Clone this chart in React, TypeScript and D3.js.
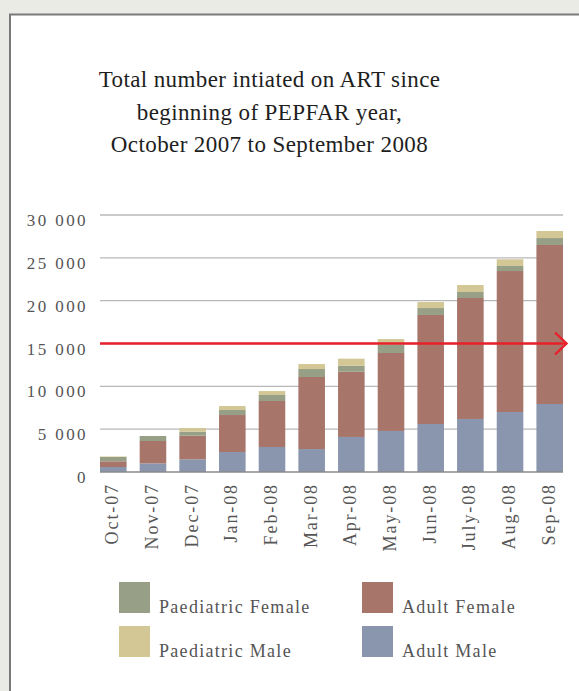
import * as d3 from 'd3';
import React from 'react';

// months of the PEPFAR year
const months = ['Oct-07', 'Nov-07', 'Dec-07', 'Jan-08', 'Feb-08', 'Mar-08', 'Apr-08', 'May-08', 'Jun-08', 'July-08', 'Aug-08', 'Sep-08'];

// cumulative numbers initiated, by group
const adultMale = [580, 1000, 1480, 2330, 2920, 2680, 4090, 4790, 5600, 6190, 7000, 7940];
const adultFemale = [670, 2620, 2760, 4320, 5370, 8410, 7610, 9100, 12730, 14120, 16460, 18560];
const paedFemale = [500, 580, 460, 590, 700, 930, 700, 1010, 810, 700, 590, 810];
const paedMale = [60, 0, 430, 460, 460, 580, 830, 620, 700, 820, 780, 820];

const target = 15000;

const titleLines = ['Total number intiated on ART since', 'beginning of PEPFAR year,', 'October 2007 to September 2008'];

const keys = ['adultMale', 'adultFemale', 'paedFemale', 'paedMale'];
const legendItems = [
    { key: 'paedFemale', label: 'Paediatric Female' },
    { key: 'adultFemale', label: 'Adult Female' },
    { key: 'paedMale', label: 'Paediatric Male' },
    { key: 'adultMale', label: 'Adult Male' },
];

const colors: Record<string, string> = {
    adultMale: '#8a95ae',
    adultFemale: '#a8756b',
    paedFemale: '#97a086',
    paedMale: '#d2c795',
};

const FONT = '"Liberation Serif", "Times New Roman", serif';

function App() {
    const width = 579;
    const height = 691;
    const left = 100, right = 563, top = 215, bottom = 472;

    const rows = months.map((m, i) => ({
        month: m,
        adultMale: adultMale[i],
        adultFemale: adultFemale[i],
        paedFemale: paedFemale[i],
        paedMale: paedMale[i],
    }));

    const series = d3.stack<any>().keys(keys)(rows);

    const x = d3.scaleBand<string>()
        .domain(months)
        .range([left, right])
        .paddingInner(0.33)
        .paddingOuter(0);

    const y = d3.scaleLinear()
        .domain([0, 30000])
        .range([bottom, top]);

    const fmt = d3.formatLocale({ decimal: '.', thousands: ' ', grouping: [3], currency: ['', ''] }).format(',');
    const ticks = y.ticks(6);
    const ty = y(target);

    return (
        <svg width={width} height={height} style={{ position: 'fixed', left: 0, top: 0 }}>
            <rect x={0} y={0} width={width} height={height} fill="#ebebe6" />
            <rect x={10} y={14.5} width={width} height={height} fill="#fff" stroke="#7a7a7a" strokeWidth={2} />

            <g fontFamily={FONT} fontSize={23} fill="#1e1e1e" textAnchor="middle">
                {titleLines.map((t, i) => (
                    <text key={i} x={269.5} y={87 + i * 32.5} letterSpacing={0.4}>{t}</text>
                ))}
            </g>

            {/* gridlines */}
            {ticks.filter(t => t > 0).map(t => (
                <line key={t} x1={left} x2={right} y1={y(t)} y2={y(t)} stroke="#b8b8b8" strokeWidth={1.3} />
            ))}
            <g fontFamily={FONT} fontSize={17} fill="#555" textAnchor="end" letterSpacing={2.4}>
                {ticks.map(t => (
                    <text key={t} x={88} y={y(t) + 11}>{fmt(t)}</text>
                ))}
            </g>

            {/* stacked bars */}
            {series.map(s => (
                <g key={s.key} fill={colors[s.key]}>
                    {s.map((d, i) => (
                        <rect key={i} x={x(months[i])} y={y(d[1])} width={x.bandwidth()} height={Math.max(0, y(d[0]) - y(d[1]))} />
                    ))}
                </g>
            ))}

            <line x1={left} x2={right} y1={bottom} y2={bottom} stroke="#8a8a8a" strokeWidth={1.6} />

            {/* month labels */}
            <g fontFamily={FONT} fontSize={18} fill="#555" textAnchor="end" letterSpacing={1.9}>
                {months.map(m => {
                    const cx = (x(m) as number) + x.bandwidth() / 2;
                    return (
                        <text key={m} transform={`translate(${cx},${483}) rotate(-90)`} dy="0.28em">{m}</text>
                    );
                })}
            </g>

            {/* target line with arrow */}
            <g stroke="#e8202a" strokeWidth={2.4} fill="none">
                <line x1={left} x2={566} y1={ty} y2={ty} />
                <polyline points={`555,${ty - 11} 566.5,${ty} 555,${ty + 11}`} />
            </g>

            {/* legend */}
            <g fontFamily={FONT} fontSize={18} fill="#555" letterSpacing={1.3}>
                {legendItems.map((item, i) => {
                    const lx = i % 2 === 0 ? 119 : 362;
                    const ly = 582 + Math.floor(i / 2) * 44;
                    return (
                        <g key={item.key}>
                            <rect x={lx} y={ly} width={31} height={31} fill={colors[item.key]} />
                            <text x={lx + 40} y={ly + 31}>{item.label}</text>
                        </g>
                    );
                })}
            </g>
        </svg>
    );
}

export default App;
